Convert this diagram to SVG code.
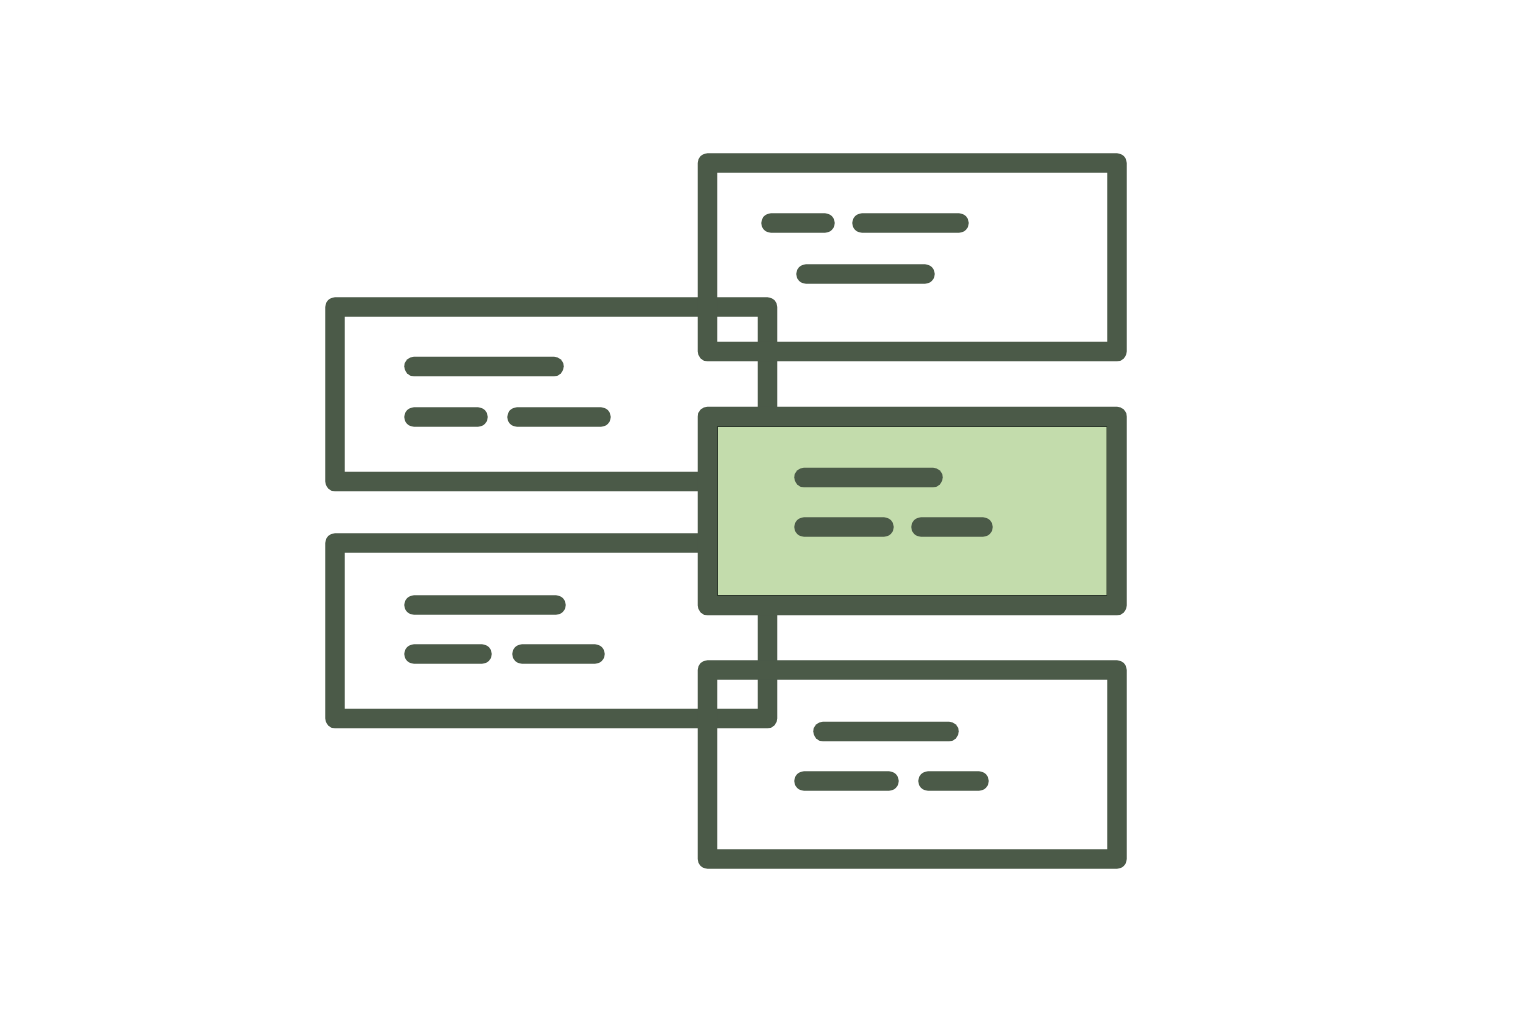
<svg xmlns="http://www.w3.org/2000/svg" width="1536" height="1024" viewBox="0 0 1536 1024">
  <style>
    .box { fill: none; stroke: #4b5a48; stroke-width: 19.5; stroke-linejoin: round; }
    .hl { fill: #c3dcac; stroke: #4b5a48; stroke-width: 19.5; stroke-linejoin: round; }
    .bar { stroke: #4b5a48; stroke-width: 19.5; stroke-linecap: round; }
    .edge { fill: none; stroke: #2e3a2d; stroke-width: 1; }
  </style>
  <rect width="1536" height="1024" fill="#ffffff"/>

  <g id="node-left-top">
    <rect class="box" x="335" y="307" width="432.5" height="174.5"/>
    <line class="bar" x1="414" y1="366.5" x2="554" y2="366.5"/>
    <line class="bar" x1="414" y1="417" x2="478" y2="417"/>
    <line class="bar" x1="517" y1="417" x2="601" y2="417"/>
  </g>

  <g id="node-left-bottom">
    <rect class="box" x="335" y="543" width="432.5" height="175.5"/>
    <line class="bar" x1="414" y1="605" x2="556" y2="605"/>
    <line class="bar" x1="414" y1="654" x2="482" y2="654"/>
    <line class="bar" x1="522" y1="654" x2="595" y2="654"/>
  </g>

  <g id="node-right-top">
    <rect class="box" x="707.5" y="163" width="409.5" height="188.5"/>
    <line class="bar" x1="771" y1="223" x2="825" y2="223"/>
    <line class="bar" x1="862" y1="223" x2="959" y2="223"/>
    <line class="bar" x1="806" y1="274" x2="925" y2="274"/>
  </g>

  <g id="node-right-bottom">
    <rect class="box" x="707.5" y="670" width="409.5" height="189"/>
    <line class="bar" x1="823" y1="731.5" x2="949" y2="731.5"/>
    <line class="bar" x1="804" y1="781" x2="889" y2="781"/>
    <line class="bar" x1="928" y1="781" x2="979" y2="781"/>
  </g>

  <g id="node-selected">
    <rect class="hl" x="707.5" y="416.5" width="409.5" height="189"/>
    <rect class="edge" x="717.5" y="426.5" width="389.5" height="169"/>
    <line class="bar" x1="804" y1="477.5" x2="933" y2="477.5"/>
    <line class="bar" x1="804" y1="527" x2="884" y2="527"/>
    <line class="bar" x1="921" y1="527" x2="983" y2="527"/>
  </g>
</svg>
